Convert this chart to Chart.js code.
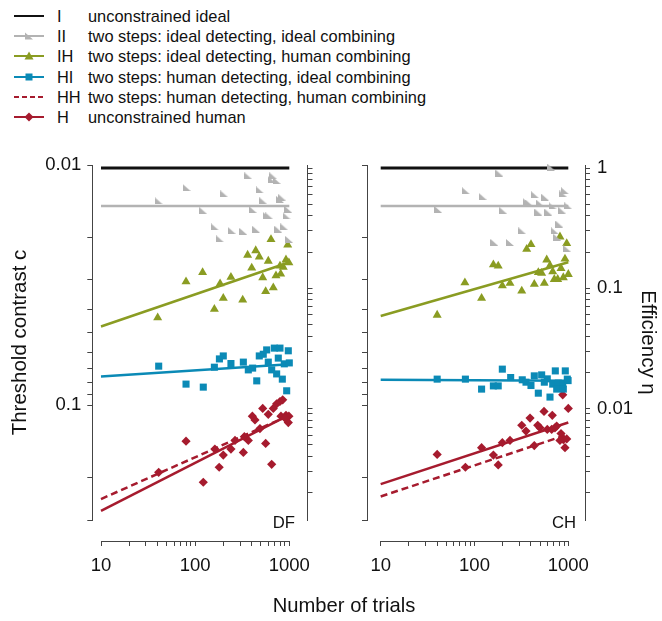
<!DOCTYPE html>
<html lang="en">
<head>
    <meta charset="UTF-8">
    <meta name="viewport" content="width=device-width, initial-scale=1.0">
    <title>Threshold contrast and efficiency vs number of trials</title>
    <script src="https://cdn.jsdelivr.net/npm/chart.js"></script>
    <style>
        body{
            margin: 0;
            width: 662px;
            height: 621px;
            position: relative;
            overflow: hidden;
            background: #fff;
            color: #111;
            font-family: "Liberation Sans", Arial, Helvetica, sans-serif;
        }
        canvas{
            position: absolute;
            top: 140px;
        }
        #panelDF{ left: 0; }
        #panelCH{ left: 331px; }
        #legend{
            position: absolute;
            left: 0;
            top: 0;
            width: 440px;
            height: 130px;
            font-size: 16.4px;
        }
        .row{
            position: absolute;
            left: 0;
            height: 20px;
            line-height: 20px;
            white-space: nowrap;
        }
        .row svg{ position: absolute; left: 14px; top: 3px; }
        .code{ position: absolute; left: 57px; }
        .desc{ position: absolute; left: 88px; }
        .subject{
            position: absolute;
            top: 513px;
            font-size: 16.7px;
            line-height: 20px;
        }
        #xTitle{
            position: absolute;
            left: 244px;
            width: 200px;
            top: 593px;
            text-align: center;
            font-size: 20.2px;
            line-height: 24px;
            white-space: nowrap;
        }
    </style>
</head>
<body>

<div id="legend"></div>
<canvas id="panelDF" width="331" height="481"></canvas>
<canvas id="panelCH" width="331" height="481"></canvas>
<div class="subject" style="right:367px">DF</div>
<div class="subject" style="right:86px">CH</div>
<div id="xTitle">Number of trials</div>

<script>
    // ---- values ----
    const trialsRange = [10, 1000];
    const contrastRange = [0.01, 0.3];
    const idealContrast = 0.0103;           // level of the "I" line
    const trialTickLabels = [10, 100, 1000];
    const contrastTickLabels = [0.01, 0.1];
    const efficiencyTickLabels = [1, 0.1, 0.01];
    const fitTrials = [10, 1000];           // fitted lines run across the whole range

    const legendCodes = ['I', 'II', 'IH', 'HI', 'HH', 'H'];
    const legendTexts = [
        'unconstrained ideal',
        'two steps: ideal detecting, ideal combining',
        'two steps: ideal detecting, human combining',
        'two steps: human detecting, ideal combining',
        'two steps: human detecting, human combining',
        'unconstrained human'
    ];

    // observer DF
    const dfII_N = [367, 676, 650, 734, 81, 204, 488, 41, 529, 830, 796, 122, 408, 575, 613, 976, 938, 162, 244, 325, 443, 764, 885, 184, 995];
    const dfII_c = [0.0111, 0.0111, 0.0115, 0.0116, 0.0124, 0.0132, 0.0127, 0.0141, 0.0141, 0.0136, 0.0139, 0.0155, 0.0153, 0.0162, 0.0163, 0.0153, 0.0163, 0.0181, 0.0187, 0.0189, 0.0185, 0.0185, 0.0181, 0.0203, 0.0204];
    const dfIH_N = [639, 962, 440, 361, 480, 598, 922, 990, 796, 863, 399, 120, 240, 80, 522, 722, 810, 184, 676, 199, 561, 320, 160, 40];
    const dfIH_c = [0.0204, 0.0215, 0.0227, 0.0237, 0.0241, 0.0251, 0.0248, 0.0255, 0.0263, 0.0266, 0.0268, 0.0280, 0.0293, 0.0306, 0.0294, 0.0289, 0.0284, 0.0312, 0.0324, 0.0358, 0.0336, 0.0364, 0.0398, 0.0432];
    const dfHI_N = [41, 80, 122, 160, 181, 199, 240, 325, 367, 408, 451, 480, 529, 575, 598, 650, 693, 796, 764, 734, 843, 885, 1000, 976, 938];
    const dfHI_c = [0.0687, 0.0816, 0.0840, 0.0694, 0.0641, 0.0623, 0.0670, 0.0661, 0.0712, 0.0700, 0.0791, 0.0623, 0.0613, 0.0588, 0.0661, 0.0712, 0.0578, 0.0578, 0.0636, 0.0740, 0.0778, 0.0672, 0.0666, 0.0593, 0.0870];
    const dfH_N = [41, 80, 122, 162, 180, 199, 240, 265, 325, 333, 367, 405, 432, 488, 522, 561, 598, 650, 676, 734, 796, 851, 816, 922, 990, 976, 900];
    const dfH_c = [0.190, 0.141, 0.209, 0.152, 0.181, 0.161, 0.152, 0.140, 0.157, 0.135, 0.140, 0.111, 0.115, 0.125, 0.103, 0.144, 0.109, 0.176, 0.103, 0.0986, 0.0964, 0.0949, 0.111, 0.110, 0.111, 0.118, 0.113];
    const dfFitI = [0.0103, 0.0103];
    const dfFitII = [0.0148, 0.0148];
    const dfFitIH = [0.047, 0.0254];
    const dfFitHI = [0.0759, 0.0674];
    const dfFitHH = [0.2455, 0.1101];
    const dfFitH = [0.2747, 0.1095];

    // observer CH
    const chII_N = [184, 654, 81, 122, 442, 564, 922, 885, 41, 203, 360, 384, 499, 682, 1000, 479, 612, 851, 802, 323, 721, 763, 163, 239, 962];
    const chII_c = [0.0108, 0.0102, 0.0128, 0.0135, 0.0133, 0.0136, 0.0128, 0.0132, 0.0153, 0.0155, 0.0142, 0.0144, 0.0144, 0.0148, 0.0148, 0.0157, 0.0157, 0.0154, 0.0176, 0.0188, 0.0188, 0.0200, 0.0210, 0.0210, 0.0222];
    const chIH_N = [815, 400, 360, 962, 589, 922, 159, 179, 638, 836, 479, 520, 682, 1000, 79, 239, 198, 434, 555, 709, 771, 885, 319, 119, 40];
    const chIH_c = [0.0199, 0.0214, 0.0224, 0.0212, 0.0248, 0.0246, 0.0260, 0.0263, 0.0262, 0.0269, 0.0280, 0.0282, 0.0278, 0.0285, 0.0309, 0.0310, 0.0318, 0.0313, 0.0310, 0.0299, 0.0299, 0.0294, 0.0334, 0.0358, 0.0421];
    const chHI_N = [40, 80, 119, 159, 179, 198, 243, 323, 354, 400, 434, 520, 597, 555, 479, 638, 682, 727, 929, 782, 872, 976, 995, 752, 885];
    const chHI_c = [0.0778, 0.0778, 0.0856, 0.0830, 0.0830, 0.0707, 0.0766, 0.0783, 0.0801, 0.0827, 0.0754, 0.0747, 0.0776, 0.0801, 0.0890, 0.0924, 0.0816, 0.0719, 0.0719, 0.0808, 0.0814, 0.0778, 0.0789, 0.0856, 0.0856];
    const chH_N = [40, 80, 119, 159, 179, 198, 239, 319, 354, 391, 434, 472, 499, 551, 597, 665, 721, 752, 675, 872, 1000, 836, 885, 815, 962, 922];
    const chH_c = [0.160, 0.181, 0.150, 0.161, 0.177, 0.143, 0.140, 0.121, 0.128, 0.113, 0.147, 0.121, 0.124, 0.106, 0.126, 0.126, 0.124, 0.122, 0.110, 0.0904, 0.103, 0.131, 0.139, 0.140, 0.138, 0.150];
    const chFitI = [0.0103, 0.0103];
    const chFitII = [0.0148, 0.0148];
    const chFitIH = [0.0425, 0.0254];
    const chFitHI = [0.0783, 0.0791];
    const chFitHH = [0.2394, 0.132];
    const chFitH = [0.2127, 0.1179];

    // ---- styles ----
    const colI = '#111111';
    const colII = '#b3b3b3';
    const colIH = '#8a9c22';
    const colHI = '#0b8ab6';
    const colH = '#a61b2e';
    const axisCol = '#444';

    Chart.defaults.font.family = '"Liberation Sans", Arial, Helvetica, sans-serif';
    Chart.defaults.color = '#111';

    // gray "flag" marker of the II series
    const flag = document.createElement('canvas');
    flag.width = 8;
    flag.height = 7;
    const fctx = flag.getContext('2d');
    fctx.fillStyle = colII;
    fctx.beginPath();
    fctx.moveTo(0, 0);
    fctx.lineTo(8, 7);
    fctx.lineTo(0, 7);
    fctx.closePath();
    fctx.fill();

    // efficiency axis follows from the contrast axis: eta = (c_ideal / c)^2
    const etaMax = Math.pow(idealContrast / contrastRange[0], 2);
    const etaMin = Math.pow(idealContrast / contrastRange[1], 2);

    function pts(N, c, color, style, r) {
        return {
            data: N.map((n, i) => ({ x: n, y: c[i] })),
            showLine: false,
            pointStyle: style,
            pointRadius: r,
            pointBackgroundColor: color,
            pointBorderWidth: 0,
            clip: false
        };
    }

    function fit(vals, color, dash, width) {
        return {
            data: fitTrials.map((n, i) => ({ x: n, y: vals[i] })),
            showLine: true,
            borderColor: color,
            borderWidth: width || 2.5,
            borderDash: dash,
            pointRadius: 0,
            clip: false
        };
    }

    // keep only 1..9 x 10^k ticks (drops the 1.5 ticks and odd end values)
    function cleanTicks(scale) {
        scale.ticks = scale.ticks.filter(t => {
            const m = t.value / Math.pow(10, Math.floor(Math.log10(t.value) + 1e-9));
            return Math.abs(m - Math.round(m)) < 1e-6;
        });
    }

    function labelFrom(list) {
        return function (value) {
            const hit = list.find(v => Math.abs(Math.log10(v) - Math.log10(value)) < 1e-6);
            return hit === undefined ? '' : String(hit);
        };
    }

    function spacer(pos, size) {
        return {
            type: 'linear',
            position: pos,
            weight: 0,
            display: true,
            ticks: { display: false },
            grid: { display: false, drawTicks: false },
            border: { display: false },
            afterFit: s => {
                if (pos === 'bottom') s.height = size; else s.width = size;
            }
        };
    }

    function tickStyle(show, labels, padding) {
        return {
            display: show,
            autoSkip: false,
            maxRotation: 0,
            padding: padding,
            font: { size: 18.5 },
            color: '#111',
            callback: labelFrom(labels)
        };
    }

    function makePanel(id, p, lay) {
        const datasets = [
            pts(p.iiN, p.iiC, colII, flag, 4),
            pts(p.ihN, p.ihC, colIH, 'triangle', 5.2),
            pts(p.hiN, p.hiC, colHI, 'rect', 5),
            pts(p.hN, p.hC, colH, 'rectRot', 4.6),
            fit(p.fitI, colI, [], 3),
            fit(p.fitII, colII, []),
            fit(p.fitIH, colIH, []),
            fit(p.fitHI, colHI, []),
            fit(p.fitHH, colH, [7, 4]),
            fit(p.fitH, colH, [])
        ];
        const grid = { display: true, drawOnChartArea: false, drawTicks: true, tickLength: 5, color: axisCol };
        const border = { display: true, color: axisCol, width: 1 };

        return new Chart(document.getElementById(id), {
            type: 'scatter',
            data: { datasets: datasets },
            options: {
                responsive: false,
                animation: false,
                events: [],
                layout: { padding: { top: 25, left: 0, right: 0, bottom: 0 } },
                plugins: { legend: { display: false }, tooltip: { enabled: false } },
                scales: {
                    x: {
                        type: 'logarithmic',
                        position: 'bottom',
                        weight: 1,
                        min: trialsRange[0],
                        max: trialsRange[1],
                        afterBuildTicks: cleanTicks,
                        afterFit: s => { s.height = 80; },
                        ticks: tickStyle(true, trialTickLabels, 9),
                        grid: grid,
                        border: border
                    },
                    xGap: spacer('bottom', 21),
                    y: {
                        type: 'logarithmic',
                        position: 'left',
                        weight: 1,
                        reverse: true,
                        min: contrastRange[0],
                        max: contrastRange[1],
                        afterBuildTicks: cleanTicks,
                        afterFit: s => { s.width = lay.yWidth; },
                        ticks: tickStyle(lay.showContrast, contrastTickLabels, 6),
                        grid: grid,
                        border: border,
                        title: {
                            display: lay.showContrast,
                            text: 'Threshold contrast c',
                            font: { size: 20.5 },
                            color: '#111',
                            padding: { top: 8, bottom: 0 }
                        }
                    },
                    yGap: spacer('left', lay.yGap),
                    etaGap: spacer('right', lay.etaGap),
                    eta: {
                        type: 'logarithmic',
                        position: 'right',
                        weight: 1,
                        min: etaMin,
                        max: etaMax,
                        afterBuildTicks: cleanTicks,
                        afterFit: s => { s.width = lay.etaWidth; },
                        ticks: tickStyle(lay.showEta, efficiencyTickLabels, 7),
                        grid: grid,
                        border: border,
                        title: {
                            display: lay.showEta,
                            text: 'Efficiency η',
                            font: { size: 20.5 },
                            color: '#111',
                            padding: { top: 2, bottom: 0 }
                        }
                    }
                }
            }
        });
    }

    makePanel('panelDF', {
        iiN: dfII_N, iiC: dfII_c, ihN: dfIH_N, ihC: dfIH_c,
        hiN: dfHI_N, hiC: dfHI_c, hN: dfH_N, hC: dfH_c,
        fitI: dfFitI, fitII: dfFitII, fitIH: dfFitIH, fitHI: dfFitHI, fitHH: dfFitHH, fitH: dfFitH
    }, { yWidth: 92.3, yGap: 8.7, etaGap: 18.2, etaWidth: 23.5, showContrast: true, showEta: false });

    makePanel('panelCH', {
        iiN: chII_N, iiC: chII_c, ihN: chIH_N, ihC: chIH_c,
        hiN: chHI_N, hiC: chHI_c, hN: chH_N, hC: chH_c,
        fitI: chFitI, fitII: chFitII, fitIH: chFitIH, fitHI: chFitHI, fitHH: chFitHH, fitH: chFitH
    }, { yWidth: 36, yGap: 13.7, etaGap: 16.7, etaWidth: 77, showContrast: false, showEta: true });

    // legend (line + marker icons, code, description)
    const legendIcons = [
        { color: colI, dash: '', marker: '' },
        { color: colII, dash: '', marker: '<polygon points="11,3.5 11,10.5 19,10.5" fill="' + colII + '"/>' },
        { color: colIH, dash: '', marker: '<polygon points="15,2.5 19.5,10.5 10.5,10.5" fill="' + colIH + '"/>' },
        { color: colHI, dash: '', marker: '<rect x="11.5" y="3.5" width="7" height="7" fill="' + colHI + '"/>' },
        { color: colH, dash: '5 3', marker: '' },
        { color: colH, dash: '', marker: '<polygon points="15,2.5 19.5,7 15,11.5 10.5,7" fill="' + colH + '"/>' }
    ];
    const legend = document.getElementById('legend');
    legendCodes.forEach((code, i) => {
        const ic = legendIcons[i];
        const row = document.createElement('div');
        row.className = 'row';
        row.style.top = (5.7 + 20.3 * i) + 'px';
        row.style.width = '440px';
        row.innerHTML =
            '<svg width="30" height="14" viewBox="0 0 30 14">' +
            '<line x1="0" y1="7" x2="30" y2="7" stroke="' + ic.color + '" stroke-width="2"' +
            (ic.dash ? ' stroke-dasharray="' + ic.dash + '"' : '') + '/>' + ic.marker + '</svg>' +
            '<span class="code">' + code + '</span>' +
            '<span class="desc">' + legendTexts[i] + '</span>';
        legend.appendChild(row);
    });
</script>

</body>
</html>
